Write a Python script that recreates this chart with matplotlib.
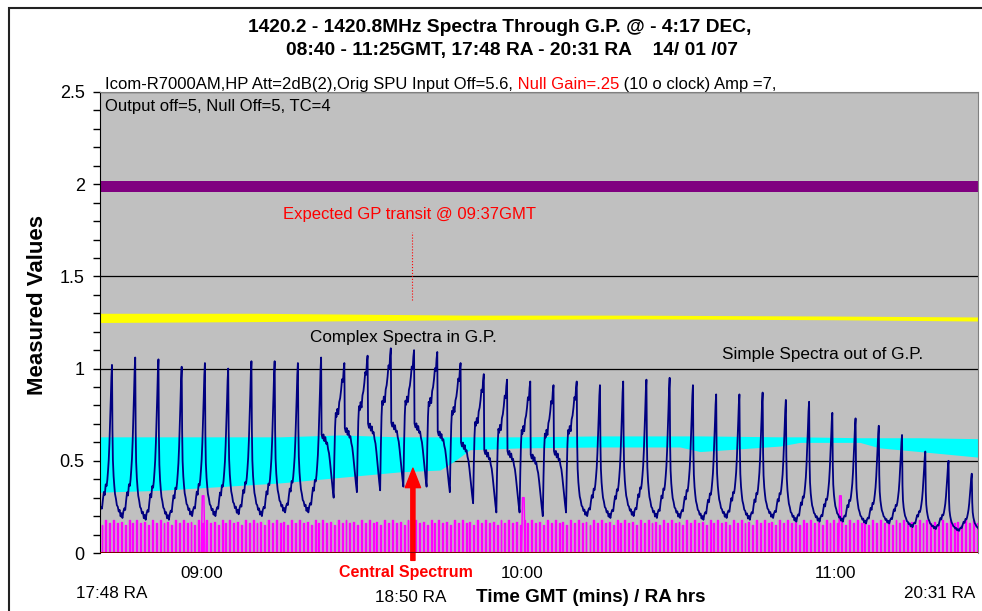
import numpy as np
import matplotlib
matplotlib.use('Agg')
import matplotlib.pyplot as plt
from matplotlib.patches import Rectangle

plt.rcParams['font.family'] = ['Liberation Sans', 'DejaVu Sans']

# Time axis is minutes after 08:40 GMT.
# Peak of each frequency sweep (navy trace).
peak_t = [2.29, 6.73, 11.17, 15.61, 20.05, 24.50, 28.94, 33.38, 37.82, 42.26,
          46.70, 51.14, 55.58, 60.02, 64.46, 68.91, 73.35, 77.79, 82.23, 86.67,
          91.11, 95.55, 99.99, 104.43, 108.87, 113.32, 117.76, 122.20, 126.64,
          131.08, 135.52, 139.96, 144.40, 148.84, 153.28, 157.73, 162.17,
          166.61, 171.05]
peak_v = [1.02, 1.06, 1.05, 1.01, 1.03, 1.00, 1.04, 1.04, 1.03, 1.06,
          1.03, 1.07, 1.11, 1.10, 1.09, 1.03, 0.97, 0.94, 0.93, 0.91,
          0.93, 0.91, 0.93, 0.94, 0.95, 0.91, 0.86, 0.86, 0.87, 0.83,
          0.82, 0.76, 0.73, 0.69, 0.64, 0.55, 0.50, 0.43, 0.40]
trough_v = [0.20, 0.19, 0.18, 0.18, 0.20, 0.20, 0.21, 0.20, 0.22, 0.22,
            0.30, 0.33, 0.34, 0.36, 0.36, 0.33, 0.27, 0.22, 0.22, 0.20,
            0.22, 0.20, 0.19, 0.20, 0.19, 0.19, 0.18, 0.19, 0.18, 0.19,
            0.17, 0.17, 0.17, 0.16, 0.16, 0.14, 0.13, 0.12, 0.12]
sweep_kind = 'SSSSSSSSSSCCCCCCCCCCCSSSSSSSSSSSSSSSSSS'

# Sweep shapes between two peaks (0 = trough, 1 = peak)
simple_phase = [0.02, 0.04, 0.07, 0.10, 0.13, 0.17, 0.21, 0.25, 0.29, 0.33,
                0.37, 0.41, 0.45, 0.49, 0.53, 0.57, 0.61, 0.65, 0.69, 0.73,
                0.77, 0.80, 0.83, 0.86, 0.89, 0.92, 0.95, 0.975]
simple_shape = [0.55, 0.36, 0.26, 0.20, 0.15, 0.12, 0.08, 0.07, 0.04, 0.05,
                0.01, 0.03, 0.00, 0.04, 0.06, 0.05, 0.11, 0.16, 0.14, 0.21,
                0.20, 0.24, 0.30, 0.37, 0.48, 0.62, 0.78, 0.92]
complex_phase = [0.02, 0.06, 0.10, 0.14, 0.18, 0.22, 0.26, 0.30, 0.34, 0.38,
                 0.42, 0.46, 0.50, 0.54, 0.57, 0.60, 0.63, 0.66, 0.70, 0.74,
                 0.78, 0.82, 0.86, 0.90, 0.94, 0.97]
complex_shape = [0.47, 0.44, 0.47, 0.42, 0.45, 0.40, 0.41, 0.36, 0.33, 0.27,
                 0.20, 0.13, 0.06, 0.00, 0.30, 0.52, 0.63, 0.60, 0.66, 0.62,
                 0.71, 0.74, 0.80, 0.88, 0.86, 0.95]

# Sweep marker pulses (magenta), per sweep
pulse_phase = [0.05, 0.22, 0.38, 0.55, 0.72, 0.88]
pulse_height = [0.18, 0.16, 0.17, 0.15, 0.18, 0.16]
hour_marks_t = [19.7, 80.9, 141.5]
hour_marks_v = [0.31, 0.30, 0.31]

# Envelopes of the dense bands
cyan_t = [0, 11.5, 22.9, 34.4, 45.9, 57.3, 65.0, 67.8, 70.7, 80.3, 95.5,
          110.8, 114.7, 130.0, 133.8, 145.2, 149.0, 156.7, 167.8]
cyan_lo = [0.33, 0.34, 0.36, 0.38, 0.41, 0.44, 0.45, 0.50, 0.56, 0.57, 0.575,
           0.575, 0.55, 0.58, 0.60, 0.60, 0.57, 0.55, 0.52]
cyan_hi = [0.63, 0.63, 0.63, 0.63, 0.64, 0.63, 0.63, 0.63, 0.63, 0.63, 0.635,
           0.635, 0.635, 0.63, 0.63, 0.625, 0.625, 0.625, 0.62]
yellow_t = [0, 30, 70, 100, 140, 167.8]
yellow_lo = [1.25, 1.255, 1.265, 1.27, 1.265, 1.258]
yellow_hi = [1.30, 1.30, 1.29, 1.29, 1.285, 1.28]
purple_t = [0, 167.8]
purple_lo = [1.955, 1.955]
purple_hi = [2.02, 2.02]

# build the navy trace sweep by sweep
templates = {'S': (simple_phase, simple_shape), 'C': (complex_phase, complex_shape)}
period = peak_t[1] - peak_t[0]
bx, by = [], []
prev = peak_t[0] - period
for i in range(len(peak_t)):
    ph, sh = templates[sweep_kind[i]]
    dt = peak_t[i] - prev
    bx += list(prev + np.array(ph) * dt)
    by += list(trough_v[i] + np.array(sh) * (peak_v[i] - trough_v[i]))
    bx.append(peak_t[i])
    by.append(peak_v[i])
    prev = peak_t[i]

# magenta pulses
mx, my = [], []
prev = peak_t[0] - period
w = 0.18
for i in range(len(peak_t)):
    dt = peak_t[i] - prev
    for p, h in zip(pulse_phase, pulse_height):
        t0 = prev + p * dt
        mx += [t0, t0, t0 + w, t0 + w]
        my += [0, h, h, 0]
    prev = peak_t[i]
hx, hy = [], []
for t, h in zip(hour_marks_t, hour_marks_v):
    hx += [t - 0.35, t - 0.15, t + 0.15, t + 0.35]
    hy += [0, h, h, 0]

fig = plt.figure(figsize=(9.82, 6.11), dpi=100)
ax = fig.add_axes([100 / 982, 58 / 611, 878 / 982, 461 / 611])
ax.set_facecolor('#C0C0C0')

ax.fill_between(purple_t, purple_lo, purple_hi, color='#800080', lw=0)
ax.fill_between(yellow_t, yellow_lo, yellow_hi, color='#FFFF00', lw=0)
ax.fill_between(cyan_t, cyan_lo, cyan_hi, color='#00FFFF', lw=0)
ax.plot(mx, my, color='#FF00FF', lw=1.0)
ax.plot(hx, hy, color='#FF00FF', lw=1.1)
ax.plot(bx, by, color='#000080', lw=1.3)
ax.axhline(0, color='#800000', lw=2.2, zorder=5)

ax.set_xlim(0, 167.8)
ax.set_ylim(0, 2.5)
ax.set_xticks([])
ax.set_yticks([0, 0.5, 1, 1.5, 2, 2.5])
ax.set_yticklabels(['0', '0.5', '1', '1.5', '2', '2.5'])
ax.set_yticks(np.arange(0, 2.51, 0.1), minor=True)
ax.tick_params(axis='y', which='both', direction='out', length=5, width=1,
               labelsize=13, pad=6)
ax.yaxis.grid(True, which='major', color='black', lw=0.9)
ax.set_axisbelow(True)
ax.spines['left'].set_color('black')
for s in ['top', 'right']:
    ax.spines[s].set_color('#808080')
ax.spines['bottom'].set_visible(False)
fig.text(38 / 982, 1 - 305 / 611, 'Measured Values', rotation=90,
         ha='center', va='center', fontsize=16, fontweight='bold')

# notes inside the plot
fs = 12
t1 = ax.text(0.96, 2.538, 'Icom-R7000AM,HP Att=2dB(2),Orig SPU Input Off=5.6,',
             fontsize=fs, va='center', ha='left')
t2 = ax.annotate(' Null Gain=.25', xy=(1, 0), xycoords=t1, va='bottom',
                 ha='left', fontsize=fs, color='red')
ax.annotate(' (10 o clock) Amp =7,', xy=(1, 0), xycoords=t2, va='bottom',
            ha='left', fontsize=fs)
ax.text(0.96, 2.419, 'Output off=5, Null Off=5, TC=4', fontsize=fs,
        va='center', ha='left')
ax.text(35.0, 1.838, 'Expected GP transit @ 09:37GMT', color='red',
        fontsize=fs, va='center', ha='left')
ax.plot([59.6, 59.6], [1.372, 1.74], color='red', lw=0.8, ls=':')
ax.text(40.1, 1.171, 'Complex Spectra in G.P.', fontsize=12.3, va='center',
        ha='left')
ax.text(118.9, 1.074, 'Simple Spectra out of G.P.', fontsize=12.3,
        va='center', ha='left')
ax.annotate('', xy=(59.8, 0.46), xytext=(59.8, -0.04),
            arrowprops=dict(color='red', width=3, headwidth=11,
                            headlength=14, shrink=0),
            annotation_clip=False)

# title and time labels
fig.text(500 / 982, 1 - 28 / 611,
         '1420.2 - 1420.8MHz Spectra Through G.P. @ - 4:17 DEC,',
         ha='center', va='center', fontsize=13.8, fontweight='bold')
fig.text(512 / 982, 1 - 50 / 611,
         '08:40 - 11:25GMT, 17:48 RA - 20:31 RA    14/ 01 /07',
         ha='center', va='center', fontsize=13.8, fontweight='bold')
for x, s in [(202, '09:00'), (522, '10:00'), (835, '11:00')]:
    fig.text(x / 982, 1 - 573 / 611, s, ha='center', va='center', fontsize=12.3)
fig.text(406 / 982, 1 - 573 / 611, 'Central Spectrum', ha='center',
         va='center', fontsize=11.5, fontweight='bold', color='red')
fig.text(112 / 982, 1 - 594 / 611, '17:48 RA', ha='center', va='center',
         fontsize=12.3)
fig.text(411 / 982, 1 - 597 / 611, '18:50 RA', ha='center', va='center',
         fontsize=12.3)
fig.text(975 / 982, 1 - 593 / 611, '20:31 RA', ha='right', va='center',
         fontsize=12.3)
fig.text(591 / 982, 1 - 598 / 611, 'Time GMT (mins) / RA hrs', ha='center',
         va='center', fontsize=13.6, fontweight='bold')

fig.patches.append(Rectangle((9 / 982, -0.1), 1.2, 1 - 8 / 611 + 0.1,
                             transform=fig.transFigure, fill=False,
                             ec='#222222', lw=1.5))

fig.savefig('out.png', dpi=100)
